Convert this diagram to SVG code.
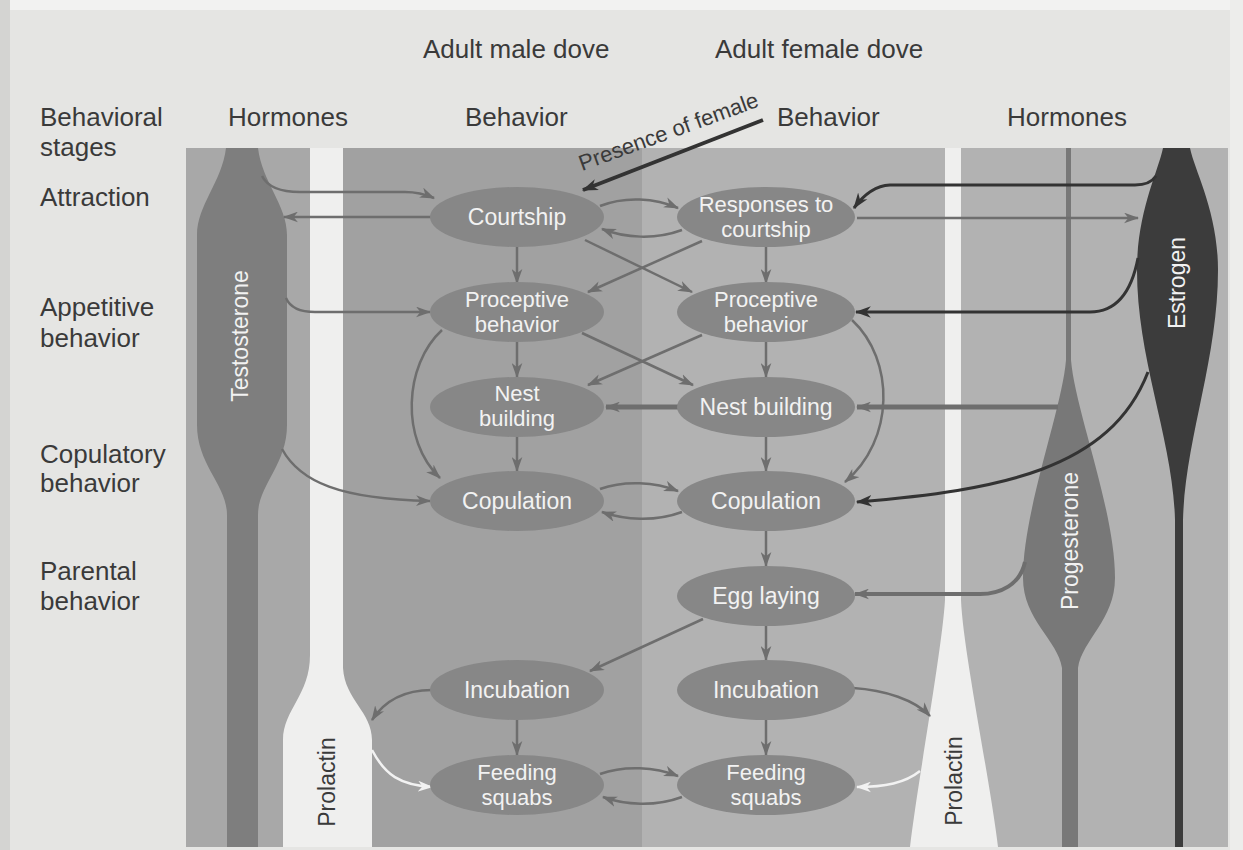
<svg xmlns="http://www.w3.org/2000/svg" width="1243" height="850" viewBox="0 0 1243 850">
<defs>
<style>
.hdr{font-family:"Liberation Sans",Arial,sans-serif;font-size:26px;fill:#3a3a3a}
.nd ellipse{fill:#878787}
.nd text{font-family:"Liberation Sans",Arial,sans-serif;font-size:23px;fill:#f2f2f2;text-anchor:middle}
.nd text.t2{font-size:22px}
.hl{font-family:"Liberation Sans",Arial,sans-serif;font-size:23px;text-anchor:middle}
.g{fill:none;stroke:#6e6e6e;stroke-width:2.5;marker-end:url(#aG)}
.d{fill:none;stroke:#333;stroke-width:3;marker-end:url(#aD)}
.w{fill:none;stroke:#f2f2f2;stroke-width:2.5;marker-end:url(#aW)}
</style>
<marker id="aG" viewBox="0 0 14 10" refX="13" refY="5" markerWidth="15" markerHeight="11" markerUnits="userSpaceOnUse" orient="auto"><path d="M0,0 L14,5 L0,10 L4,5 Z" fill="#6e6e6e"/></marker>
<marker id="aD" viewBox="0 0 14 10" refX="13" refY="5" markerWidth="16" markerHeight="12" markerUnits="userSpaceOnUse" orient="auto"><path d="M0,0 L14,5 L0,10 L4,5 Z" fill="#333"/></marker>
<marker id="aW" viewBox="0 0 14 10" refX="13" refY="5" markerWidth="15" markerHeight="11" markerUnits="userSpaceOnUse" orient="auto"><path d="M0,0 L14,5 L0,10 L4,5 Z" fill="#f2f2f2"/></marker>
</defs>
<rect x="0" y="0" width="1243" height="850" fill="#e5e5e3"/>
<rect x="0" y="0" width="1243" height="10" fill="#f2f2f1"/>
<rect x="0" y="0" width="10" height="850" fill="#d4d4d2"/>
<rect x="1230" y="0" width="13" height="850" fill="#ededeb"/>
<g id="panel">
<rect x="186" y="148" width="157" height="699" fill="#a8a8a8"/>
<rect x="343" y="148" width="299" height="699" fill="#a1a1a1"/>
<rect x="642" y="148" width="586" height="699" fill="#b2b2b2"/>
</g>
<g id="headers">
<text class="hdr" x="423" y="58">Adult male dove</text>
<text class="hdr" x="715" y="58">Adult female dove</text>
<text class="hdr" x="40" y="126">Behavioral</text>
<text class="hdr" x="40" y="156">stages</text>
<text class="hdr" x="228" y="126">Hormones</text>
<text class="hdr" x="465" y="126">Behavior</text>
<text class="hdr" x="777" y="126">Behavior</text>
<text class="hdr" x="1007" y="126">Hormones</text>
<text class="hdr" x="40" y="206">Attraction</text>
<text class="hdr" x="40" y="316">Appetitive</text>
<text class="hdr" x="40" y="347">behavior</text>
<text class="hdr" x="40" y="463">Copulatory</text>
<text class="hdr" x="40" y="492">behavior</text>
<text class="hdr" x="40" y="580">Parental</text>
<text class="hdr" x="40" y="610">behavior</text>
</g>
<g id="testosterone">
<path d="M226,148 L258,148 C262,182 287,205 287,235 L287,425 C287,465 258,485 258,515 L258,847 L227,847 L227,515 C227,485 197,465 197,425 L197,235 C197,205 222,182 226,148 Z" fill="#7e7e7e"/>
<text class="hl" fill="#f2f2f2" transform="translate(248,336) rotate(-90)">Testosterone</text>
</g>
<g id="prolactin-male">
<path d="M310,148 L343,148 L343,668 C345,700 372,712 372,740 L372,847 L283,847 L283,740 C283,710 310,695 310,655 Z" fill="#efefee"/>
<text class="hl" fill="#3a3a3a" transform="translate(335,782) rotate(-90)">Prolactin</text>
</g>
<g id="prolactin-female">
<path d="M945,148 L961,148 L961,600 C963,650 990,780 998,847 L910,847 C918,780 942,650 945,600 Z" fill="#efefee"/>
<text class="hl" fill="#3a3a3a" transform="translate(962,781) rotate(-90)">Prolactin</text>
</g>
<g id="progesterone">
<path d="M1066,148 L1071,148 L1071,360 C1075,410 1115,510 1115,578 C1115,620 1082,640 1078,668 L1078,847 L1062,847 L1062,668 C1058,640 1023,620 1023,578 C1023,510 1062,410 1066,360 Z" fill="#787878"/>
<text class="hl" fill="#f2f2f2" transform="translate(1078,541) rotate(-90)">Progesterone</text>
</g>
<g id="estrogen">
<path d="M1163,148 L1190,148 C1195,172 1218,212 1218,270 C1218,360 1185,440 1183,520 L1183,847 L1175,847 L1175,520 C1173,440 1137,360 1137,270 C1137,212 1158,172 1163,148 Z" fill="#3c3c3c"/>
<text class="hl" fill="#f2f2f2" transform="translate(1185,283) rotate(-90)">Estrogen</text>
</g>
<g id="connectors">
<path class="g" d="M262,176 Q270,192 300,192 L405,192 Q420,192 434,198"/>
<path class="g" d="M431,217 L284,217"/>
<path class="g" d="M286,298 Q292,312 315,312 L430,312"/>
<path class="g" d="M282,449 C300,482 340,499 430,501"/>
<path class="g" d="M442,330 C404,365 400,440 440,478"/>
<path class="g" d="M517,247 L517,283"/>
<path class="g" d="M517,342 L517,377"/>
<path class="g" d="M517,437 L517,471"/>
<path class="g" d="M517,720 L517,755"/>
<path class="g" d="M766,247 L766,283"/>
<path class="g" d="M766,342 L766,377"/>
<path class="g" d="M766,437 L766,471"/>
<path class="g" d="M766,530 L766,566"/>
<path class="g" d="M766,625 L766,660"/>
<path class="g" d="M766,720 L766,755"/>
<path class="g" d="M585,240 L692,292"/>
<path class="g" d="M702,241 L588,292"/>
<path class="g" d="M582,333 L693,385"/>
<path class="g" d="M702,335 L588,385"/>
<path class="g" d="M679,407 L606,407" style="stroke-width:5"/>
<path class="g" d="M600,206 C625,196 655,198 678,208"/>
<path class="g" d="M682,230 C655,240 625,238 602,229"/>
<path class="g" d="M600,489 C625,480 655,482 678,491"/>
<path class="g" d="M682,512 C655,522 625,520 602,512"/>
<path class="g" d="M600,774 C625,765 655,767 678,776"/>
<path class="g" d="M682,797 C655,807 625,805 603,797"/>
<path class="g" d="M852,320 C895,360 895,440 845,482"/>
<path class="g" d="M703,619 L590,671"/>
<path class="g" d="M432,690 C405,690 385,700 372,720"/>
<path class="w" d="M372,750 C385,775 400,785 432,787"/>
<path class="g" d="M853,688 C885,690 915,700 930,716"/>
<path class="w" d="M920,771 C905,783 885,787 857,787"/>
<path class="d" d="M1156,176 Q1150,185 1135,185 L890,185 Q870,186 854,208"/>
<path class="g" d="M857,218 L1138,218"/>
<path class="d" d="M1138,258 C1130,300 1110,312 1090,312 L856,312"/>
<path class="g" d="M1058,407 L857,407" style="stroke-width:5"/>
<path class="d" d="M1148,372 C1110,470 1000,490 857,502"/>
<path class="g" d="M1025,562 C1020,585 1000,594 980,594 L855,594" style="stroke-width:4"/>
<path class="d" d="M763,120 L583,190" style="stroke-width:4"/>
</g>
<g id="presence-label">
<text class="hl" fill="#3a3a3a" style="font-size:22px;text-anchor:start" transform="translate(582,171) rotate(-20)">Presence of female</text>
</g>
<g id="m-courtship" class="nd"><ellipse cx="517" cy="217" rx="87" ry="30"/><text x="517" y="225">Courtship</text></g>
<g id="m-proceptive" class="nd"><ellipse cx="517" cy="312" rx="87" ry="30"/><text class="t2" x="517" y="307">Proceptive</text><text class="t2" x="517" y="332">behavior</text></g>
<g id="m-nest" class="nd"><ellipse cx="517" cy="407" rx="87" ry="30"/><text class="t2" x="517" y="401">Nest</text><text class="t2" x="517" y="426">building</text></g>
<g id="m-copulation" class="nd"><ellipse cx="517" cy="501" rx="87" ry="30"/><text x="517" y="509">Copulation</text></g>
<g id="m-incubation" class="nd"><ellipse cx="517" cy="690" rx="87" ry="30"/><text x="517" y="698">Incubation</text></g>
<g id="m-feeding" class="nd"><ellipse cx="517" cy="785" rx="87" ry="30"/><text class="t2" x="517" y="780">Feeding</text><text class="t2" x="517" y="805">squabs</text></g>
<g id="f-responses" class="nd"><ellipse cx="766" cy="217" rx="89" ry="30"/><text class="t2" x="766" y="212">Responses to</text><text class="t2" x="766" y="237">courtship</text></g>
<g id="f-proceptive" class="nd"><ellipse cx="766" cy="312" rx="89" ry="30"/><text class="t2" x="766" y="307">Proceptive</text><text class="t2" x="766" y="332">behavior</text></g>
<g id="f-nest" class="nd"><ellipse cx="766" cy="407" rx="89" ry="30"/><text x="766" y="415">Nest building</text></g>
<g id="f-copulation" class="nd"><ellipse cx="766" cy="501" rx="89" ry="30"/><text x="766" y="509">Copulation</text></g>
<g id="f-egg" class="nd"><ellipse cx="766" cy="596" rx="89" ry="30"/><text x="766" y="604">Egg laying</text></g>
<g id="f-incubation" class="nd"><ellipse cx="766" cy="690" rx="89" ry="30"/><text x="766" y="698">Incubation</text></g>
<g id="f-feeding" class="nd"><ellipse cx="766" cy="785" rx="89" ry="30"/><text class="t2" x="766" y="780">Feeding</text><text class="t2" x="766" y="805">squabs</text></g>
</svg>
